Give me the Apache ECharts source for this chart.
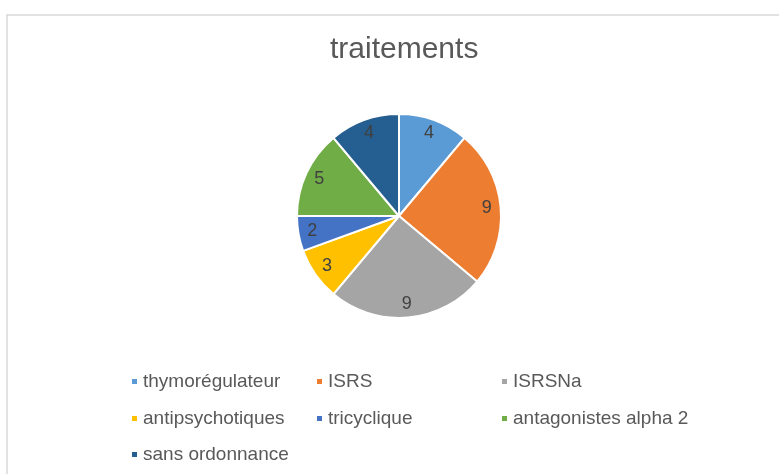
<!DOCTYPE html>
<html>
<head>
<meta charset="utf-8">
<script src="https://cdn.jsdelivr.net/npm/echarts@6/dist/echarts.min.js"></script>
<style>
  html, body { margin: 0; padding: 0; background: #fff; }
  #chart { width: 779px; height: 474px; }
</style>
</head>
<body>
<div id="chart"></div>
<script>
// data
const categories = ['thymorégulateur', 'ISRS', 'ISRSNa', 'antipsychotiques', 'tricyclique', 'antagonistes alpha 2', 'sans ordonnance'];
const values = [4, 9, 9, 3, 2, 5, 4];
const colors = ['#5B9BD5', '#ED7D31', '#A5A5A5', '#FFC000', '#4472C4', '#70AD47', '#255E91'];

// legend slots: column x and row y for each item (excel style 3 columns)
const legendCols = [125, 310, 495];
const legendRows = [367, 404, 440];

const pieData = categories.map(function (name, i) {
    return { name: name, value: values[i], itemStyle: { color: colors[i] } };
});

let legends = categories.map(function (name, i) {
    return {
        data: [name],
        left: legendCols[i % 3],
        top: legendRows[Math.floor(i / 3)],
        icon: 'rect',
        itemWidth: 7,
        itemHeight: 7,
        textStyle: {
            fontFamily: 'Liberation Sans, Arial, sans-serif',
            fontSize: 19,
            color: '#595959'
        },
        selectedMode: false
    };
});

let myChart = echarts.init(document.getElementById('chart'));
myChart.setOption({
    backgroundColor: '#fff',
    animation: false,
    title: {
        text: 'traitements',
        left: 325,
        top: 30,
        textStyle: {
            fontFamily: 'Liberation Sans, Arial, sans-serif',
            fontSize: 30,
            fontWeight: 'normal',
            color: '#595959'
        }
    },
    graphic: [{
        // chart area frame
        type: 'rect',
        shape: { x: 7, y: 15, width: 790, height: 480 },
        style: { fill: 'none', stroke: '#d9d9d9', lineWidth: 1.5 },
        silent: true
    }],
    legend: legends,
    series: [
        {
            type: 'pie',
            center: [399, 216],
            radius: [0, 102],
            startAngle: 90,
            clockwise: true,
            data: pieData,
            itemStyle: { borderColor: '#fff', borderWidth: 2 },
            label: { show: false },
            labelLine: { show: false },
            emphasis: { disabled: true }
        },
        {
            // transparent ring only used to place the value labels
            type: 'pie',
            center: [399, 216],
            radius: [68, 102],
            startAngle: 90,
            clockwise: true,
            silent: true,
            data: pieData.map(function (d) {
                return { name: d.name, value: d.value, itemStyle: { color: 'rgba(0,0,0,0)' } };
            }),
            label: {
                show: true,
                position: 'inside',
                formatter: '{c}',
                fontFamily: 'Liberation Sans, Arial, sans-serif',
                fontSize: 18,
                color: '#404040'
            },
            labelLine: { show: false },
            emphasis: { disabled: true }
        }
    ]
});
</script>
</body>
</html>
